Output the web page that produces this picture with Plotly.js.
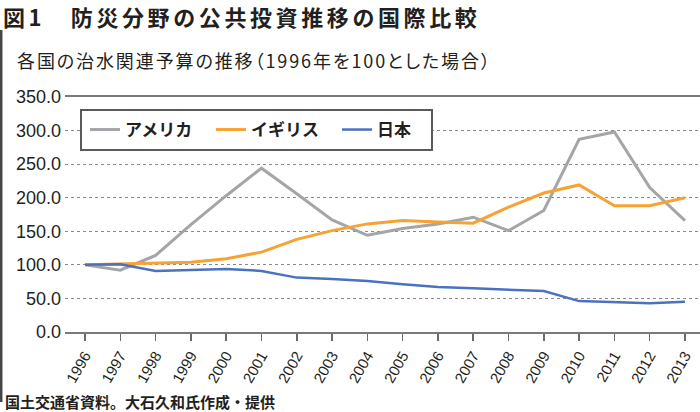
<!DOCTYPE html>
<html>
<head>
<meta charset="utf-8">
<script src="https://cdn.plot.ly/plotly-3.0.1.min.js"></script>
<style>
html, body { margin: 0; padding: 0; background: #fff; }
#chart { width: 700px; height: 412px; }
</style>
</head>
<body>
<div id="chart"></div>
<script>
// ---- data ----
const years = ['1996','1997','1998','1999','2000','2001','2002','2003','2004','2005','2006','2007','2008','2009','2010','2011','2012','2013'];
const usa   = [100, 92, 114, 160, 203, 244, 206, 167, 144, 154, 161, 171, 151, 181, 287, 298, 215, 166];
const uk    = [100, 101, 102, 104, 109, 119, 138, 151, 161, 166, 164, 162, 186, 207, 219, 188, 188, 200];
const japan = [100, 101, 91, 93, 94, 91, 81, 79, 76, 71, 67, 65, 63, 61, 46, 44, 43, 45];
const seriesNames = ['アメリカ', 'イギリス', '日本'];
const yTicks = [0, 50, 100, 150, 200, 250, 300, 350];

const titleText = '図1　防災分野の公共投資推移の国際比較';
const subtitleText = '各国の治水関連予算の推移（1996年を100とした場合）';
const sourceText = '国土交通省資料。大石久和氏作成・提供';

// ---- layout helpers (pixel -> paper) ----
const W = 700, H = 412, ML = 65, MR = 0, MT = 97, MB = 80;
const PW = W - ML - MR, PH = H - MT - MB;
const px = x => (x - ML) / PW;
const py = y => (H - MB - y) / PH;

const CJK = '"Noto Sans CJK JP", "Noto Sans", sans-serif';
const LAT = '"Liberation Sans", Arial, sans-serif';
const TXT = '#231f20';

const traces = [
  { x: years, y: usa,   name: seriesNames[0], type: 'scatter', mode: 'lines', line: { color: '#a3a5a8', width: 3 } },
  { x: years, y: uk,    name: seriesNames[1], type: 'scatter', mode: 'lines', line: { color: '#f7a234', width: 3 } },
  { x: years, y: japan, name: seriesNames[2], type: 'scatter', mode: 'lines', line: { color: '#4a72c1', width: 2.5 } }
];

const layout = {
  width: W, height: H,
  margin: { l: ML, r: MR, t: MT, b: MB, pad: 0 },
  paper_bgcolor: '#fff', plot_bgcolor: '#fff',
  showlegend: true,
  hovermode: false,
  xaxis: {
    type: 'category',
    range: [-0.567, 17.425],
    showgrid: false,
    showline: true, linecolor: '#7a7a7a', linewidth: 2, mirror: true,
    ticks: 'outside', ticklen: 7, tickwidth: 1.5, tickcolor: '#6a6a6a',
    tickangle: -60,
    tickfont: { family: LAT, size: 15, color: TXT },
    zeroline: false
  },
  yaxis: {
    range: [0, 350],
    tickvals: yTicks,
    tickformat: '.1f',
    showgrid: true, gridcolor: '#8a8a8a', gridwidth: 1, griddash: 'dot',
    zeroline: false, showline: false, ticks: '',
    tickfont: { family: LAT, size: 18, color: TXT },
    ticklabelstandoff: 3
  },
  legend: {
    orientation: 'h',
    x: px(85), xanchor: 'left',
    y: py(130), yanchor: 'middle',
    bgcolor: 'rgba(0,0,0,0)', borderwidth: 0,
    entrywidth: 81, entrywidthmode: 'pixels',
    font: { family: CJK, size: 17, color: TXT, weight: 'bold' },
    traceorder: 'normal'
  },
  shapes: [
    // legend frame
    { type: 'rect', xref: 'paper', yref: 'paper', x0: px(81), x1: px(432), y0: py(110), y1: py(150),
      fillcolor: '#ffffff', line: { color: '#5a5a5a', width: 2 }, layer: 'above' },
    // left frame rule
    { type: 'line', xref: 'paper', yref: 'paper', x0: px(1.2), x1: px(1.2), y0: py(30), y1: py(402),
      line: { color: '#444', width: 2.5 } }
  ],
  annotations: [
    { xref: 'paper', yref: 'paper', x: px(1), y: py(16), xanchor: 'left', yanchor: 'middle', showarrow: false,
      text: '<span style="letter-spacing:3.6px">' + titleText + '</span>',
      font: { family: CJK, size: 22, color: TXT, weight: 'bold' } },
    { xref: 'paper', yref: 'paper', x: px(15), y: py(60), xanchor: 'left', yanchor: 'middle', showarrow: false,
      text: '<span style="letter-spacing:1.9px;font-feature-settings:\'palt\'">' + subtitleText + '</span>',
      font: { family: CJK, size: 18, color: TXT } },
    { xref: 'paper', yref: 'paper', x: px(3), y: py(401), xanchor: 'left', yanchor: 'middle', showarrow: false,
      text: sourceText,
      font: { family: CJK, size: 15, color: TXT, weight: 'bold' } }
  ]
};

Plotly.newPlot('chart', traces, layout, { staticPlot: true, displayModeBar: false });
</script>
</body>
</html>
